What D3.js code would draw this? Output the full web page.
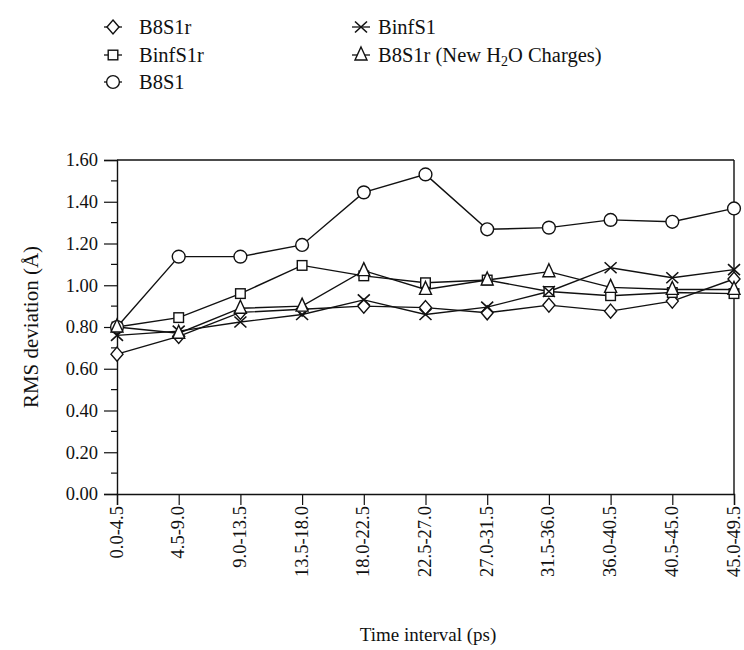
<!DOCTYPE html>
<html>
<head>
<meta charset="utf-8">
<script src="https://cdn.jsdelivr.net/npm/d3@7"></script>
<style>
  html, body { margin: 0; padding: 0; background: #fff; }
  svg { display: block; }
  text { font-family: "Liberation Serif", "Times New Roman", serif; fill: #111; }
</style>
</head>
<body>
<svg id="chart" width="744" height="650"></svg>
<script>
const categories = ["0.0-4.5","4.5-9.0","9.0-13.5","13.5-18.0","18.0-22.5","22.5-27.0","27.0-31.5","31.5-36.0","36.0-40.5","40.5-45.0","45.0-49.5"];
const b8s1r      = [0.67, 0.755, 0.87, 0.885, 0.90, 0.893, 0.868, 0.905, 0.876, 0.924, 1.03];
const binfs1r    = [0.80, 0.845, 0.96, 1.095, 1.045, 1.012, 1.025, 0.97, 0.95, 0.965, 0.96];
const b8s1       = [0.80, 1.137, 1.137, 1.193, 1.445, 1.531, 1.268, 1.276, 1.313, 1.304, 1.368];
const binfs1     = [0.76, 0.78, 0.824, 0.86, 0.93, 0.86, 0.895, 0.97, 1.084, 1.036, 1.075];
const b8s1rNewH2O = [0.80, 0.77, 0.89, 0.90, 1.07, 0.98, 1.025, 1.065, 0.99, 0.98, 0.98];
const yTicks = [0.00, 0.20, 0.40, 0.60, 0.80, 1.00, 1.20, 1.40, 1.60];

const series = [
  {name: "B8S1r", values: b8s1r, sym: "diamond"},
  {name: "BinfS1r", values: binfs1r, sym: "square"},
  {name: "B8S1", values: b8s1, sym: "circle"},
  {name: "BinfS1", values: binfs1, sym: "x"},
  {name: "B8S1r (New H2O Charges)", values: b8s1rNewH2O, sym: "triangle"}
];

const svg = d3.select("#chart");
const m = {left: 117, right: 734, top: 160, bottom: 494};
const x = d3.scalePoint().domain(categories).range([m.left, m.right]).padding(0);
const y = d3.scaleLinear().domain([0, 1.6]).range([m.bottom, m.top]);

function drawMarker(g, sym) {
  const s = g.append("g").attr("fill", "none").attr("stroke", "#111").attr("stroke-width", 1.4);
  if (sym === "circle") {
    s.append("circle").attr("r", 6.4).attr("fill", "#fff");
  } else if (sym === "square") {
    s.append("rect").attr("x", -4.8).attr("y", -4.8).attr("width", 9.6).attr("height", 9.6).attr("fill", "#fff");
  } else if (sym === "diamond") {
    s.append("path").attr("d", "M0,-7L6,0L0,7L-6,0Z").attr("fill", "#fff");
  } else if (sym === "triangle") {
    s.append("path").attr("d", "M0,-8L6,5L-6,5Z").attr("fill", "#fff");
  } else if (sym === "x") {
    s.append("path").attr("d", "M-6,-5.5L6,5.5M-6,5.5L6,-5.5").attr("stroke-width", 1.6);
  }
}

// frame: top and right border
svg.append("line").attr("x1", m.left).attr("x2", m.right).attr("y1", m.top).attr("y2", m.top).attr("stroke", "#111").attr("stroke-width", 1.4);
svg.append("line").attr("x1", m.right).attr("x2", m.right).attr("y1", m.top).attr("y2", m.bottom).attr("stroke", "#111").attr("stroke-width", 1.4);

// y axis
const yAxis = d3.axisLeft(y).tickValues(yTicks).tickFormat(d3.format(".2f")).tickSize(13).tickPadding(6);
const gy = svg.append("g").attr("transform", `translate(${m.left},0)`).call(yAxis);
gy.select(".domain").attr("stroke", "#111").attr("stroke-width", 1.4);
gy.selectAll(".tick line").attr("stroke", "#111").attr("stroke-width", 1.2);
gy.selectAll(".tick text").attr("font-size", 18.5).attr("font-family", "Liberation Serif").attr("fill", "#111");
const minor = d3.range(0.1, 1.6, 0.2);
svg.append("g").selectAll("line").data(minor).join("line")
  .attr("x1", m.left - 6).attr("x2", m.left).attr("y1", d => y(d)).attr("y2", d => y(d))
  .attr("stroke", "#111").attr("stroke-width", 1.2);

// x axis
const xAxis = d3.axisBottom(x).tickSize(11).tickPadding(6);
const gx = svg.append("g").attr("transform", `translate(0,${m.bottom})`).call(xAxis);
gx.select(".domain").attr("stroke", "#111").attr("stroke-width", 1.4);
gx.selectAll(".tick line").attr("stroke", "#111").attr("stroke-width", 1.2);
gx.selectAll(".tick text")
  .attr("font-size", 18.5).attr("font-family", "Liberation Serif").attr("fill", "#111")
  .attr("transform", "rotate(-90)")
  .attr("text-anchor", "end")
  .attr("x", -12).attr("y", 0).attr("dy", "0.27em");

// axis titles
svg.append("text").attr("x", 428).attr("y", 641).attr("text-anchor", "middle")
  .attr("font-size", 19).text("Time interval (ps)");
svg.append("text").attr("transform", "translate(38,327) rotate(-90)").attr("text-anchor", "middle")
  .attr("font-size", 21).text("RMS deviation (Å)");

// lines
const line = d3.line().x((d, i) => x(categories[i])).y(d => y(d));
const plot = svg.append("g");
series.forEach(s => {
  plot.append("path").datum(s.values).attr("d", line)
    .attr("fill", "none").attr("stroke", "#111").attr("stroke-width", 1.4);
});
series.forEach(s => {
  s.values.forEach((v, i) => {
    const g = plot.append("g").attr("transform", `translate(${x(categories[i])},${y(v)})`);
    drawMarker(g, s.sym);
  });
});

// legend
const legendPos = [
  {sx: 113, tx: 139, ty: 27},
  {sx: 113, tx: 139, ty: 55},
  {sx: 113, tx: 139, ty: 82},
  {sx: 361, tx: 378, ty: 27},
  {sx: 361, tx: 378, ty: 55}
];
series.forEach((s, i) => {
  const p = legendPos[i];
  const g = svg.append("g").attr("transform", `translate(${p.sx},${p.ty})`);
  g.append("line").attr("x1", -9).attr("x2", 9).attr("y1", 0).attr("y2", 0).attr("stroke", "#111").attr("stroke-width", 1.3);
  drawMarker(g, s.sym);
  const t = svg.append("text").attr("x", p.tx).attr("y", p.ty).attr("dy", "0.35em").attr("font-size", 20.5);
  if (i === 4) {
    t.append("tspan").text("B8S1r (New H");
    t.append("tspan").attr("font-size", 14).attr("dy", "0.3em").text("2");
    t.append("tspan").attr("dy", "-0.2em").text("O Charges)");
  } else {
    t.text(s.name);
  }
});
</script>
</body>
</html>
